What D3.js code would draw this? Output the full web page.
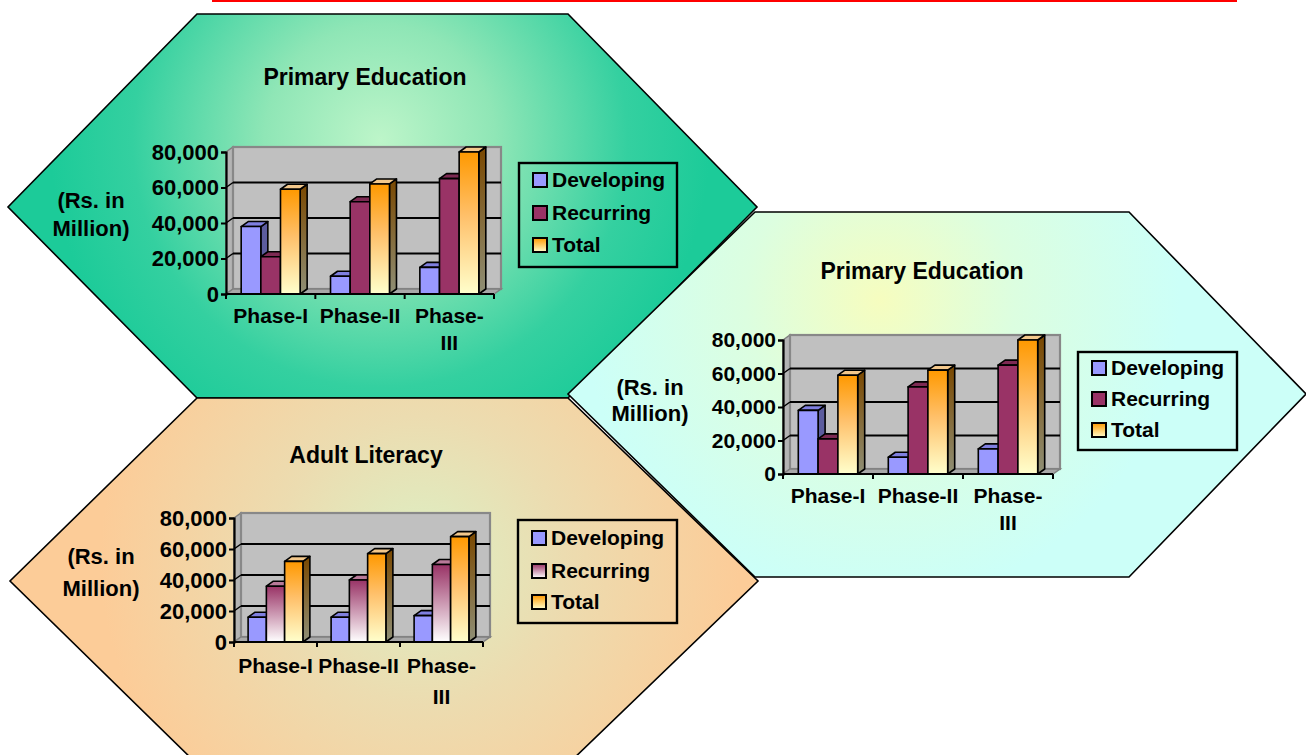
<!DOCTYPE html>
<html>
<head>
<meta charset="utf-8">
<script src="https://cdn.jsdelivr.net/npm/d3@7"></script>
<style>
  html, body { margin: 0; padding: 0; background: #ffffff; }
  svg { display: block; }
  text { font-family: "Liberation Sans", Arial, sans-serif; font-weight: bold; fill: #000; }
</style>
</head>
<body>
<svg id="chart" width="1306" height="755"></svg>
<script>
// ---------------- DATA ----------------
const categories = ["Phase-I", "Phase-II", "Phase-III"];
const categoryLines = [["Phase-I"], ["Phase-II"], ["Phase-", "III"]];
const seriesNames = ["Developing", "Recurring", "Total"];

const primaryDeveloping = [38000, 10000, 15000];
const primaryRecurring  = [21000, 52000, 65000];
const primaryTotal      = [59000, 62000, 80000];

const adultDeveloping = [16000, 16000, 17000];
const adultRecurring  = [36000, 40000, 50000];
const adultTotal      = [52000, 57000, 68000];

const yTicks = [0, 20000, 40000, 60000, 80000];
const yMax = 80000;

const titlePrimary = "Primary Education";
const titleAdult = "Adult Literacy";
const yLabelLines = ["(Rs. in", "Million)"];

// ---------------- DRAWING ----------------
const svg = d3.select("#chart");
const defs = svg.append("defs");

function linGrad(id, stops) {
  const g = defs.append("linearGradient").attr("id", id)
    .attr("x1", 0).attr("y1", 0).attr("x2", 0).attr("y2", 1);
  stops.forEach(s => g.append("stop").attr("offset", s[0]).attr("stop-color", s[1]));
}
function radGrad(id, cx, cy, r, stops) {
  const g = defs.append("radialGradient").attr("id", id)
    .attr("gradientUnits", "userSpaceOnUse")
    .attr("cx", cx).attr("cy", cy).attr("r", r);
  stops.forEach(s => g.append("stop").attr("offset", s[0]).attr("stop-color", s[1]));
}

radGrad("bgGreen", 380, 140, 330, [[0, "#bdf5c9"], [0.35, "#8fe6b6"], [0.75, "#34d0a0"], [1, "#1ccb99"]]);
radGrad("bgCyan", 880, 300, 300, [[0, "#f6fdbf"], [0.45, "#dcfee0"], [1, "#ccfff8"]]);
radGrad("bgOrange", 420, 560, 320, [[0, "#dcf0c4"], [0.45, "#ecdcb0"], [1, "#fccc98"]]);

linGrad("totalFront", [[0, "#ff9900"], [0.45, "#ffc06a"], [1, "#ffffcc"]]);
linGrad("totalSide", [[0, "#7a4800"], [1, "#8f8f76"]]);
linGrad("recGradFront", [[0, "#993366"], [1, "#ffffff"]]);
linGrad("recGradSide", [[0, "#5c1f3d"], [1, "#a8a8a8"]]);
linGrad("legTotal", [[0, "#ff9900"], [1, "#ffffcc"]]);
linGrad("legRec", [[0, "#993366"], [1, "#ffffff"]]);

// top red rule
svg.append("line").attr("x1", 212).attr("x2", 1237).attr("y1", 1).attr("y2", 1)
  .attr("stroke", "#ff0000").attr("stroke-width", 2);

// hexagon backgrounds
const hexGreen  = [[197,14],[568,14],[757,207],[568,398],[197,398],[8,207]];
const hexOrange = [[197,398],[568,398],[758,581],[568,764],[197,764],[10,581]];
const hexCyan   = [[755,212],[1129,212],[1306,394],[1129,577],[755,577],[568,394]];
[[hexGreen, "url(#bgGreen)"], [hexOrange, "url(#bgOrange)"], [hexCyan, "url(#bgCyan)"]].forEach(([pts, fill]) => {
  svg.append("polygon").attr("points", pts.map(p => p.join(",")).join(" "))
    .attr("fill", fill).attr("stroke", "#000").attr("stroke-width", 1.6).attr("stroke-linejoin", "miter");
});

function drawPanel(cfg) {
  const g = svg.append("g");
  const dx = 7, dy = 5;
  const y = d3.scaleLinear().domain([0, yMax]).range([cfg.y0, cfg.yTop]);
  const x0 = d3.scaleBand().domain(categories).range([cfg.axisX, cfg.axisEndX]).padding(0);
  const groupW = x0.bandwidth() * 0.66;
  const x1 = d3.scaleBand().domain(seriesNames).range([0, groupW]).padding(0);

  // title
  g.append("text").attr("x", cfg.titleX).attr("y", cfg.titleY).attr("dy", "0.35em")
    .attr("text-anchor", "middle").style("font-size", "23px").text(cfg.title);
  // y label
  yLabelLines.forEach((t, i) => {
    g.append("text").attr("x", cfg.ylabX).attr("y", cfg.ylabY + i * cfg.ylabGap).attr("dy", "0.35em")
      .attr("text-anchor", "middle").style("font-size", "22px").text(t);
  });

  const L = cfg.axisX, R = cfg.axisEndX, B = cfg.y0, T = cfg.yTop;
  // left side wall
  g.append("polygon").attr("points", [[L, T], [L + dx, T - dy], [L + dx, B - dy], [L, B]].map(p => p.join(",")).join(" "))
    .attr("fill", "#b4b4b4").attr("stroke", "#808080").attr("stroke-width", 1.5);
  // back wall
  g.append("rect").attr("x", L + dx).attr("y", T - dy).attr("width", R - L).attr("height", B - T)
    .attr("fill", "#c0c0c0").attr("stroke", "#888888").attr("stroke-width", 2.2);
  // gridlines
  yTicks.filter(v => v > 0 && v < yMax).forEach(v => {
    g.append("line").attr("x1", L + dx).attr("x2", R + dx).attr("y1", y(v) - dy).attr("y2", y(v) - dy)
      .attr("stroke", "#000").attr("stroke-width", 2);
    g.append("line").attr("x1", L).attr("x2", L + dx).attr("y1", y(v)).attr("y2", y(v) - dy)
      .attr("stroke", "#000").attr("stroke-width", 1.5);
  });
  // floor
  g.append("polygon").attr("points", [[L, B], [L + dx, B - dy], [R + dx, B - dy], [R, B]].map(p => p.join(",")).join(" "))
    .attr("fill", "#a8a8a8").attr("stroke", "#808080").attr("stroke-width", 1.5);

  // bars
  const seriesStyle = [
    { front: "#9999ff", side: "#5c5c9e", top: "#7f7fe0" },
    cfg.recGradient
      ? { front: "url(#recGradFront)", side: "url(#recGradSide)", top: "#b87a99" }
      : { front: "#993366", side: "#5c1f3d", top: "#7d2a53" },
    { front: "url(#totalFront)", side: "url(#totalSide)", top: "#f3c88c" }
  ];
  categories.forEach((c, ci) => {
    const gx = x0(c) + (x0.bandwidth() - groupW) / 2;
    seriesNames.forEach((s, si) => {
      const v = cfg.values[si][ci];
      const xf = gx + x1(s), w = x1.bandwidth();
      const yv = y(v), yb = y(0);
      const st = seriesStyle[si];
      const bg = g.append("g").attr("stroke", "#000").attr("stroke-width", 1.6).attr("stroke-linejoin", "round");
      bg.append("polygon").attr("points", [[xf + w, yv], [xf + w + dx, yv - dy], [xf + w + dx, yb - dy], [xf + w, yb]].map(p => p.join(",")).join(" "))
        .attr("fill", st.side);
      bg.append("polygon").attr("points", [[xf, yv], [xf + dx, yv - dy], [xf + w + dx, yv - dy], [xf + w, yv]].map(p => p.join(",")).join(" "))
        .attr("fill", st.top);
      bg.append("rect").attr("x", xf).attr("y", yv).attr("width", w).attr("height", yb - yv)
        .attr("fill", st.front);
    });
  });

  // front axes
  const yAxis = d3.axisLeft(y).tickValues(yTicks).tickSize(5).tickFormat(d3.format(","));
  const ya = g.append("g").attr("transform", `translate(${L},0)`).call(yAxis);
  ya.select(".domain").attr("stroke", "#000").attr("stroke-width", 2.2);
  ya.selectAll(".tick line").attr("stroke", "#000").attr("stroke-width", 2);
  ya.selectAll(".tick text").attr("x", -7).style("font-size", cfg.tickFont + "px")
    .style("font-family", '"Liberation Sans", Arial, sans-serif').style("font-weight", "bold").attr("fill", "#000");

  const xa = g.append("g").attr("transform", `translate(0,${B})`);
  xa.append("line").attr("x1", L).attr("x2", R).attr("y1", 0).attr("y2", 0).attr("stroke", "#000").attr("stroke-width", 2.2);
  [...categories.map(c => x0(c)), R].forEach(xx => {
    xa.append("line").attr("x1", xx).attr("x2", xx).attr("y1", 0).attr("y2", 5).attr("stroke", "#000").attr("stroke-width", 2);
  });
  categories.forEach((c, ci) => {
    categoryLines[ci].forEach((t, li) => {
      xa.append("text").attr("x", x0(c) + x0.bandwidth() / 2).attr("y", cfg.catDy + li * cfg.catGap).attr("dy", "0.35em")
        .attr("text-anchor", "middle").style("font-size", "21px").text(t);
    });
  });

  // legend
  const lg = g.append("g").attr("transform", `translate(${cfg.leg[0]},${cfg.leg[1]})`);
  lg.append("rect").attr("width", cfg.leg[2]).attr("height", cfg.leg[3]).attr("fill", "none")
    .attr("stroke", "#000").attr("stroke-width", 2.4);
  const legFill = ["#9999ff", cfg.recGradient ? "url(#legRec)" : "#993366", "url(#legTotal)"];
  seriesNames.forEach((s, i) => {
    const cy = cfg.legRows[i];
    lg.append("rect").attr("x", 14).attr("y", cy - 7).attr("width", 14).attr("height", 14)
      .attr("fill", legFill[i]).attr("stroke", "#000").attr("stroke-width", 2);
    lg.append("text").attr("x", 33).attr("y", cy).attr("dy", "0.35em").style("font-size", "21px").text(s);
  });
}

drawPanel({
  title: titlePrimary, titleX: 365, titleY: 77,
  ylabX: 91, ylabY: 200, ylabGap: 28,
  axisX: 226, axisEndX: 494, y0: 294, yTop: 152, tickFont: 22,
  catDy: 22, catGap: 27,
  values: [primaryDeveloping, primaryRecurring, primaryTotal], recGradient: false,
  leg: [519, 163, 158, 104], legRows: [17, 50, 82]
});
drawPanel({
  title: titleAdult, titleX: 366, titleY: 455,
  ylabX: 101, ylabY: 556, ylabGap: 32,
  axisX: 234, axisEndX: 483, y0: 642, yTop: 518, tickFont: 22,
  catDy: 24, catGap: 31,
  values: [adultDeveloping, adultRecurring, adultTotal], recGradient: true,
  leg: [518, 520, 159, 103], legRows: [18, 51, 82]
});
drawPanel({
  title: titlePrimary, titleX: 922, titleY: 271,
  ylabX: 650, ylabY: 387, ylabGap: 26,
  axisX: 783, axisEndX: 1053, y0: 474, yTop: 340, tickFont: 21,
  catDy: 22, catGap: 27,
  values: [primaryDeveloping, primaryRecurring, primaryTotal], recGradient: false,
  leg: [1078, 352, 159, 98], legRows: [16, 47, 78]
});
</script>
</body>
</html>
